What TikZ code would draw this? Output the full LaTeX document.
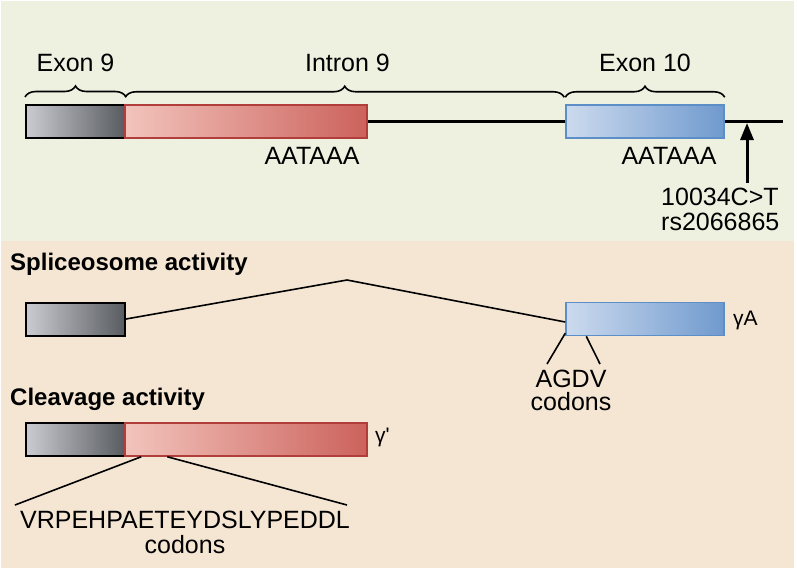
\documentclass[tikz,border=0pt]{standalone}
\usepackage{fontspec}
\setmainfont{Liberation Sans}
\usetikzlibrary{arrows.meta,decorations.pathreplacing,calc}

\definecolor{panelgreen}{RGB}{238,240,224}
\definecolor{panelpeach}{RGB}{245,230,211}
\definecolor{greyL}{RGB}{202,204,210}
\definecolor{greyD}{RGB}{88,91,96}
\definecolor{redL}{RGB}{242,196,188}
\definecolor{redD}{RGB}{204,98,92}
\definecolor{redB}{RGB}{178,62,60}
\definecolor{blueL}{RGB}{204,218,238}
\definecolor{blueD}{RGB}{112,154,206}
\definecolor{blueB}{RGB}{92,142,200}

\begin{document}
\begin{tikzpicture}[
  x=1pt, y=-1pt,
  font=\fontsize{25}{30}\selectfont,
  >={Triangle[length=17pt,width=13pt]},
  genebox/.style={rectangle, inner sep=0pt, minimum height=33pt},
  exnine/.style={genebox, draw=black, line width=2pt, left color=greyL, right color=greyD, minimum width=99pt},
  innine/.style={genebox, draw=redB, line width=1.5pt, left color=redL, right color=redD, minimum width=242pt},
  exten/.style={genebox, draw=blueB, line width=1.5pt, left color=blueL, right color=blueD, minimum width=158pt},
  geneline/.style={draw=black, line width=3pt},
  genebrace/.style={draw=black, line width=1.6pt, decorate, decoration={brace, amplitude=11pt}},
  link/.style={draw=black, line width=1.6pt},
  seqlabel/.style={anchor=base, inner sep=0pt},
  title/.style={anchor=base west, inner sep=0pt, font=\fontsize{24}{28}\selectfont\bfseries},
  isoform/.style={anchor=base west, inner sep=0pt, font=\fontsize{21}{25}\selectfont}
]
  \useasboundingbox (0,0) rectangle (797,570);
  \fill[panelgreen] (1,1) rectangle (794,241);
  \fill[panelpeach] (1,241) rectangle (794,568);

  % gene structure
  \node[exnine] (e9top) at (75.5,121.5) {};
  \node[innine] (i9top) at (246,121.5) {};
  \node[exten] (e10top) at (645,121.5) {};
  \coordinate (lineend) at (783,121.5);
  \draw[geneline] (i9top.east) -- (e10top.west);
  \draw[geneline] (e10top.east) -- (lineend);

  \draw[genebrace] ($(e9top.north west)+(0,-7)$) -- ($(e9top.north east)+(0,-7)$);
  \draw[genebrace] ($(i9top.north west)+(1,-7)$) -- ($(e10top.north west)+(-1,-7)$);
  \draw[genebrace] ($(e10top.north west)+(0,-7)$) -- ($(e10top.north east)+(0,-7)$);
  \node[seqlabel] (e9lab) at (75.5,71) {Exon 9};
  \node[seqlabel] (i9lab) at (347.5,71) {Intron 9};
  \node[seqlabel] (e10lab) at (645,71) {Exon 10};

  \node[seqlabel] (polya1) at (312,164) {AATAAA};
  \node[seqlabel] (polya2) at (669,164) {AATAAA};

  \coordinate (snpfoot) at (747,183);
  \coordinate (snptip) at (747,123);
  \draw[->, line width=3pt] (snpfoot) -- (snptip);
  \node[anchor=base west, inner sep=0pt] (snpname) at (661,205) {10034C>T};
  \node[anchor=base west, inner sep=0pt] (snpid) at (661,230) {rs2066865};

  % spliceosome
  \node[title] (splice) at (10,270) {Spliceosome activity};
  \node[exnine] (e9sp) at (75.5,319) {};
  \node[exten] (e10sp) at (645,319) {};
  \coordinate (peak) at (347,280);
  \draw[link] (e9sp.east) -- (peak) -- ($(e10sp.west)+(0,3)$);
  \node[isoform] (gA) at (733,325) {γA};
  \node[seqlabel] (agdv) at (571,387) {AGDV};
  \node[seqlabel] (agdvc) at (571,410) {codons};
  \draw[link] ($(e10sp.south west)+(0,-3)$) -- (547,364);
  \draw[link] ($(e10sp.south west)+(21,0)$) -- (600,364);

  % cleavage
  \node[title] (cleave) at (10,405) {Cleavage activity};
  \node[exnine] (e9cl) at (75.5,439.5) {};
  \node[innine] (i9cl) at (246,439.5) {};
  \node[isoform] (gP) at (375,442) {γ\textquotesingle};
  \node[seqlabel] (vrp) at (185,528) {VRPEHPAETEYDSLYPEDDL};
  \node[seqlabel] (vrpc) at (185,553) {codons};
  \draw[link] ($(i9cl.south west)+(17,0)$) -- (15,505);
  \draw[link] ($(i9cl.south west)+(43,0)$) -- (347,505);
\end{tikzpicture}
\end{document}
